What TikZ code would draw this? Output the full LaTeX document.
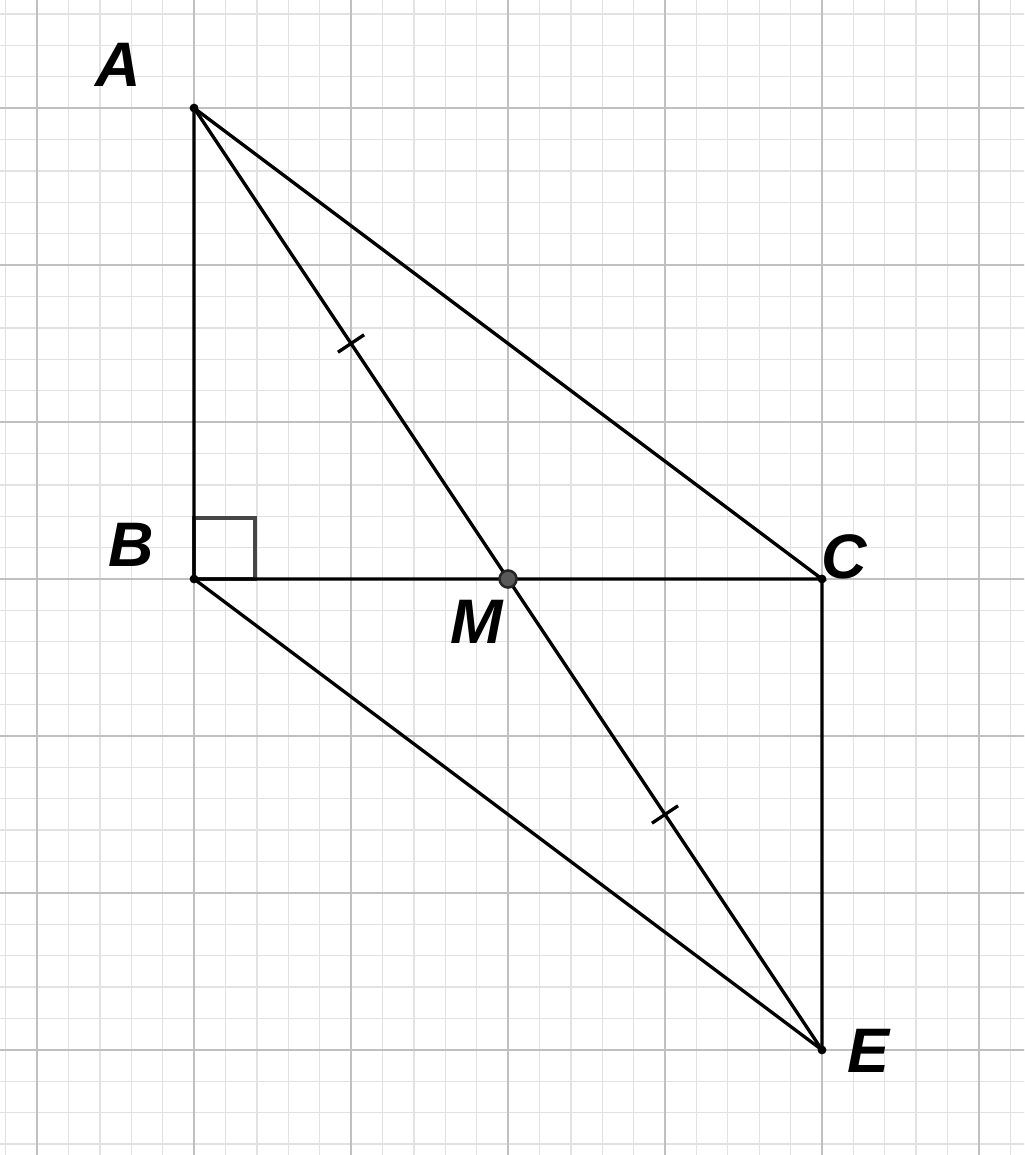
\documentclass[tikz,border=0pt]{standalone}
\usepackage{fontspec}
\setmainfont{Liberation Sans}
\usetikzlibrary{calc}
\definecolor{majorgray}{RGB}{192,192,192}
\definecolor{minorgray}{RGB}{226,226,226}
\definecolor{squaregray}{RGB}{70,70,70}
\tikzset{minorgrid/.style={draw=minorgray,line width=0.25pt},
    majorgrid/.style={draw=majorgray,line width=0.38pt},
    segment/.style={draw=black,line width=0.6pt},
    smalldot/.style={circle,fill=black,inner sep=0,minimum size=1.6pt},
    middot/.style={circle,draw=black!85,fill=black!65,line width=0.45pt,inner sep=0,minimum size=3.1pt},
    rightangle/.style={draw=squaregray,line width=0.75pt},
    ptlabel/.style={font=\fontsize{11.4}{13}\selectfont\bfseries\itshape,inner sep=0}}

\begin{document}
\begin{tikzpicture}

\useasboundingbox (-1.236,-3.669) rectangle (5.287,3.688);
\fill [white] (-1.236,-3.669) rectangle (5.287,3.688);
\begin{scope}
\clip (-1.236,-3.669) rectangle (5.287,3.688);
\draw [minorgrid,step=0.2] (-2,-4) grid (6,4);
\draw [majorgrid,step=1] (-2,-4) grid (6,4);
\end{scope}

\coordinate (A) at (0,3);
\coordinate (B) at (0,0);
\coordinate (M) at (2,0);
\coordinate (C) at (4,0);
\coordinate (E) at (4,-3);

\draw [rightangle] (B) rectangle ++(0.39,0.39);

\draw [segment] (A) -- (B) -- (C) -- cycle;
\draw [segment] (B) -- (E) -- (C);
\draw [segment] (A) -- (M) -- (E);

% equal marks
\draw [segment] ($(A)!0.5!(M)!0.1cm!90:(M)$) -- ($(A)!0.5!(M)!0.1cm!-90:(M)$);
\draw [segment] ($(M)!0.5!(E)!0.1cm!90:(E)$) -- ($(M)!0.5!(E)!0.1cm!-90:(E)$);

\node (dotA) [smalldot] at (A) {};
\node (dotB) [smalldot] at (B) {};
\node (dotC) [smalldot] at (C) {};
\node (dotE) [smalldot] at (E) {};
\node (dotM) [middot] at (M) {};

\node (labA) [ptlabel] at (-0.484,3.274) {A};
\node (labB) [ptlabel] at (-0.401,0.217) {B};
\node (labC) [ptlabel] at (4.140,0.140) {C};
\node (labM) [ptlabel] at (1.800,-0.274) {M};
\node (labE) [ptlabel] at (4.299,-3.006) {E};

\end{tikzpicture}
\end{document}
